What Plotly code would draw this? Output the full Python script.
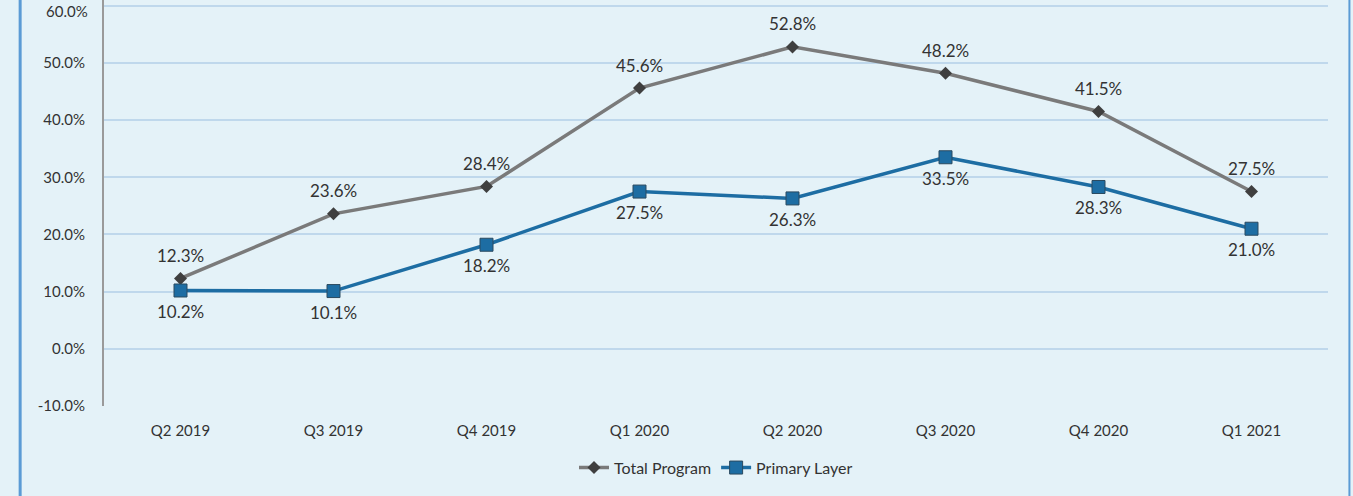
import plotly.graph_objects as go

# Quarterly loss ratios by layer
quarters = ["Q2 2019", "Q3 2019", "Q4 2019", "Q1 2020", "Q2 2020", "Q3 2020", "Q4 2020", "Q1 2021"]
total_program = [12.3, 23.6, 28.4, 45.6, 52.8, 48.2, 41.5, 27.5]
primary_layer = [10.2, 10.1, 18.2, 27.5, 26.3, 33.5, 28.3, 21.0]
y_ticks = [-10, 0, 10, 20, 30, 40, 50, 60]

BG = "#e4f2f8"
GREY = "#7a7a7a"
BLUE = "#1d6da3"
TEXT = "#333333"
FONT = "Lato, 'Open Sans', sans-serif"

fig = go.Figure()
fig.add_trace(go.Scatter(
    x=quarters, y=total_program, name="Total Program", mode="lines+markers",
    line=dict(color=GREY, width=3.5),
    marker=dict(symbol="diamond", size=10, color="#3f3f3f"),
))
fig.add_trace(go.Scatter(
    x=quarters, y=primary_layer, name="Primary Layer", mode="lines+markers",
    line=dict(color=BLUE, width=3.5),
    marker=dict(symbol="square", size=13, color=BLUE, line=dict(color="#2a4a60", width=1)),
))

annotations = []
for q, v in zip(quarters, total_program):
    annotations.append(dict(x=q, y=v, text=f"{v:.1f}%", showarrow=False, yshift=23,
                            font=dict(size=17, color=TEXT, family=FONT)))
for q, v in zip(quarters, primary_layer):
    annotations.append(dict(x=q, y=v, text=f"{v:.1f}%", showarrow=False, yshift=-21,
                            font=dict(size=17, color=TEXT, family=FONT)))
# top tick label, kept just inside the figure's top edge
top = y_ticks[-1]
annotations.append(dict(xref="paper", x=0, xanchor="right", xshift=-14,
                        yref="paper", y=1, yanchor="top",
                        text=f"{top:.1f}%", showarrow=False, font=dict(size=15, color=TEXT, family=FONT)))

fig.update_layout(
    width=1353, height=496,
    margin=dict(l=104, r=25, t=0, b=90),
    paper_bgcolor=BG, plot_bgcolor=BG,
    font=dict(family=FONT, color=TEXT, size=15),
    annotations=annotations,
    showlegend=True,
    legend=dict(orientation="h", x=0.5, xanchor="center", y=-0.11, yanchor="top",
                font=dict(size=16, color=TEXT), bgcolor="rgba(0,0,0,0)"),
    shapes=[
        dict(type="line", xref="paper", yref="paper", x0=-0.0685, x1=-0.0685, y0=-0.3, y1=1.05,
             line=dict(color="#5b9bd5", width=3)),
        dict(type="line", xref="paper", yref="paper", x0=1.0175, x1=1.0175, y0=-0.3, y1=1.05,
             line=dict(color="#5b9bd5", width=2)),
    ],
)
fig.update_xaxes(range=[-0.5, 7.5], showgrid=False, showline=False, zeroline=False, ticks="",
                 tickfont=dict(size=15, color=TEXT), ticklabelstandoff=14)
fig.update_yaxes(range=[-10, 61], tickvals=y_ticks, ticktext=[f"{t:.1f}%" for t in y_ticks],
                 showgrid=True, gridcolor="#bfd8ec", gridwidth=2,
                 zeroline=False, showline=True, linecolor="#9a9a9a", linewidth=2,
                 ticks="", tickfont=dict(size=15, color=TEXT), ticklabelstandoff=14)

fig.write_html("out.html")
